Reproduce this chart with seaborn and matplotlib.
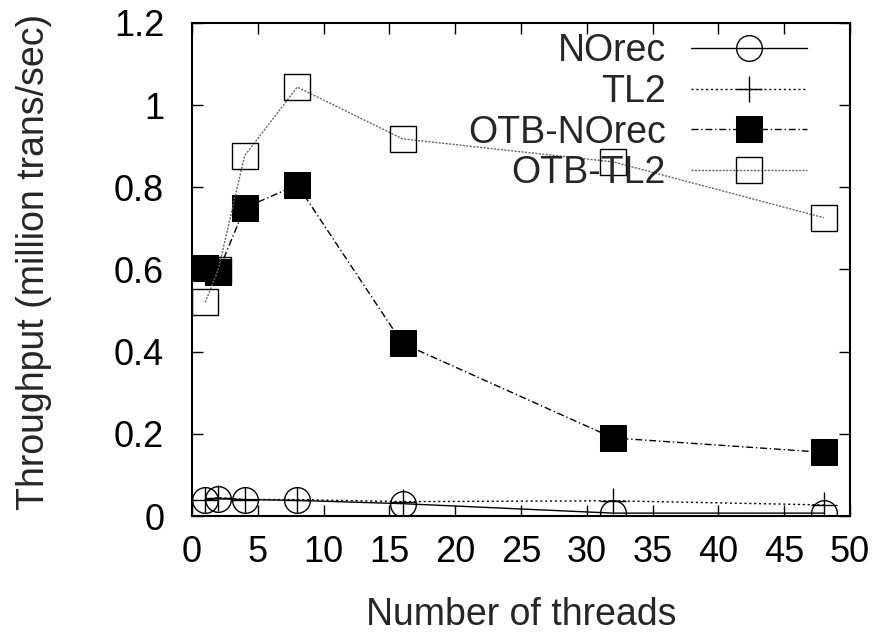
import matplotlib
matplotlib.use("Agg")
import matplotlib.pyplot as plt
import seaborn as sns
import numpy as np
from matplotlib.ticker import FuncFormatter, MultipleLocator

threads = [1, 2, 4, 8, 16, 32, 48]
norec = [0.040, 0.042, 0.040, 0.038, 0.030, 0.007, 0.007]
tl2 = [0.040, 0.045, 0.040, 0.040, 0.035, 0.037, 0.027]
otb_norec = [0.603, 0.595, 0.750, 0.806, 0.420, 0.190, 0.155]
otb_tl2 = [0.520, 0.600, 0.877, 1.044, 0.918, 0.862, 0.726]

sns.set_style("ticks")
plt.rcParams['font.family'] = ['Liberation Sans', 'DejaVu Sans']

W, H = 881, 633
L, R, T, B = 192, 850, 23, 516
fig = plt.figure(figsize=(W / 100, H / 100), dpi=100)
ax = fig.add_axes([L / W, (H - B) / H, (R - L) / W, (B - T) / H])

lw = 1.0
ms = 18.5
sns.lineplot(x=threads, y=norec, ax=ax, label="NOrec", color="black", linestyle="-",
             linewidth=lw, marker="o", markersize=ms, markerfacecolor="none",
             markeredgecolor="black", markeredgewidth=1.0)
sns.lineplot(x=threads, y=tl2, ax=ax, label="TL2", color="black", linestyle=(0, (1.5, 2)),
             linewidth=lw, marker="+", markersize=ms, markeredgecolor="black",
             markeredgewidth=1.0)
sns.lineplot(x=threads, y=otb_norec, ax=ax, label="OTB-NOrec", color="black",
             linestyle=(0, (5, 2, 1, 2)), linewidth=lw, marker="s", markersize=ms,
             markerfacecolor="black", markeredgecolor="black")
sns.lineplot(x=threads, y=otb_tl2, ax=ax, label="OTB-TL2", color="#666666",
             linestyle=(0, (1.5, 1)), linewidth=lw, marker="s", markersize=ms,
             markerfacecolor="none", markeredgecolor="black", markeredgewidth=1.0)

ax.set_xlim(0, 50)
ax.set_ylim(0, 1.2)
ax.xaxis.set_major_locator(MultipleLocator(5))
ax.yaxis.set_major_locator(MultipleLocator(0.2))
ax.yaxis.set_major_formatter(FuncFormatter(lambda v, p: "%g" % round(v, 2)))
ax.tick_params(direction="in", length=8, width=1.0, top=True, right=True,
               labelsize=26, colors="black")
ax.tick_params(axis="x", pad=14)
ax.tick_params(axis="y", pad=20)
for s in ax.spines.values():
    s.set_linewidth(1.5)
    s.set_color("black")
    s.set_visible(True)

ax.set_xlabel("Number of threads", fontsize=27)
ax.set_ylabel("Throughput (million trans/sec)", fontsize=27)
ax.xaxis.set_label_coords(0.5, (B - 597) / (B - T))
ax.yaxis.set_label_coords((52 - L) / (R - L), (B - 262) / (B - T))

leg = ax.legend(loc="upper right", bbox_to_anchor=((807 - L) / (R - L), 0.98),
                frameon=False, markerfirst=False, fontsize=27, handlelength=3.1,
                handletextpad=0.67, labelspacing=0.13, borderpad=0, borderaxespad=0)

fig.savefig("out.png", dpi=100)
